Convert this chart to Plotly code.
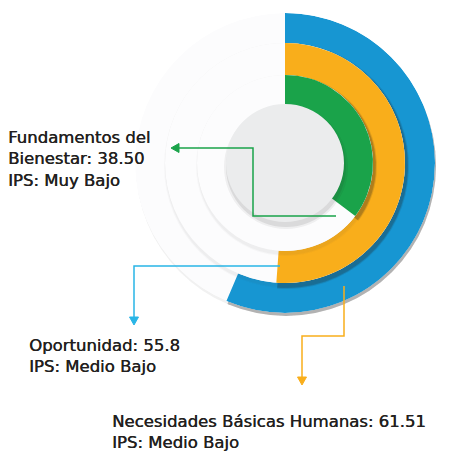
import plotly.graph_objects as go

# ---- data ----
categories = ["Necesidades Básicas Humanas", "Oportunidad", "Fundamentos del Bienestar"]
values = [61.51, 55.8, 38.50]
value_labels = ["61.51", "55.8", "38.50"]
levels = ["Medio Bajo", "Medio Bajo", "Muy Bajo"]

# ---- layout / style ----
W, H = 452, 455
OFF = 8                      # page body margin
CX, CY, R = 285, 163, 150    # in page pixels
DEG_PER_UNIT = 3.3
ring_base = [120, 88, 56]
ring_thick = [30, 32, 32]
ring_colors = ["#1796d2", "#f9ae1b", "#1aa34a"]
arrow_colors = ["#f9ae1b", "#29b5e6", "#1aa34a"]
TRACK = "#fcfcfd"
CENTER = "#ebeced"
CENTER_R = 59
TEXT = "#231f20"
FONT = "DejaVu Sans"


def px(x, y):
    return (x - OFF) / W, 1 - (y - OFF) / H


def dom(dx=0, dy=0):
    x0, y1 = px(CX - R + dx, CY - R + dy)
    x1, y0 = px(CX + R + dx, CY + R + dy)
    return dict(x=[x0, x1], y=[y0, y1])


fig = go.Figure()
layouts = {}
layer = [0]


def new_layer(dx=0, dy=0):
    layer[0] += 1
    name = "polar" if layer[0] == 1 else f"polar{layer[0]}"
    layouts[name] = dict(
        domain=dom(dx, dy),
        bgcolor="rgba(0,0,0,0)",
        angularaxis=dict(rotation=90, direction="clockwise", visible=False),
        radialaxis=dict(range=[0, R], visible=False),
    )
    return name


def ring(sub, theta, width, base, r, color):
    fig.add_trace(go.Barpolar(theta=[theta], width=[width], base=[base], r=[r],
                              marker=dict(color=color, line=dict(width=0)),
                              subplot=sub, hoverinfo="skip", showlegend=False))


for i, (v, b, t) in enumerate(zip(values, ring_base, ring_thick)):
    ang = v * DEG_PER_UNIT
    # shadow layer
    s = new_layer(1, 3)
    ring(s, 180, 360, b - 2, t + 4, "rgba(60,60,70,0.03)")
    ring(s, 180, 360, b, t + 1, "rgba(60,60,70,0.045)")
    ring(s, ang / 2, ang, b - 2, t + 5, "rgba(30,30,30,0.12)")
    ring(s, ang / 2, ang, b, t + 2, "rgba(30,30,30,0.20)")
    # body layer
    m = new_layer()
    ring(m, 180, 360, b, t, TRACK)
    fig.add_trace(go.Barpolar(theta=[ang / 2], width=[ang], base=[b], r=[t],
                              marker=dict(color=ring_colors[i], line=dict(width=0)),
                              name=categories[i], subplot=m, showlegend=False,
                              hovertemplate=f"{categories[i]}: {value_labels[i]}<extra></extra>"))

# centre disk
s = new_layer(1, 4)
ring(s, 180, 360, 0, CENTER_R + 3, "rgba(40,40,40,0.06)")
ring(s, 180, 360, 0, CENTER_R + 1, "rgba(40,40,40,0.10)")
m = new_layer()
ring(m, 180, 360, 0, CENTER_R, CENTER)

fig.update_layout(**layouts)

# arrows
shapes = []


def poly(points, color, closed=False):
    d = "M " + " L ".join(f"{px(x, y)[0]},{px(x, y)[1]}" for x, y in points)
    if closed:
        d += " Z"
        return dict(type="path", path=d, xref="paper", yref="paper",
                    fillcolor=color, line=dict(color=color, width=1))
    return dict(type="path", path=d, xref="paper", yref="paper",
                line=dict(color=color, width=1.5))


# Necesidades (orange)
shapes.append(poly([(344, 286), (344, 336), (302, 336), (302, 378)], arrow_colors[0]))
shapes.append(poly([(302, 385), (297.5, 377), (306.5, 377)], arrow_colors[0], True))
# Oportunidad (cyan)
shapes.append(poly([(280, 266), (134, 266), (134, 318)], arrow_colors[1]))
shapes.append(poly([(134, 325), (129.5, 317), (138.5, 317)], arrow_colors[1], True))
# Fundamentos (green)
shapes.append(poly([(336, 216), (253, 216), (253, 148), (178, 148)], arrow_colors[2]))
shapes.append(poly([(171, 148), (179, 143.5), (179, 152.5)], arrow_colors[2], True))

fig.update_layout(shapes=shapes)

# labels
label_pos = [(110, 432), (27, 356), (6, 159)]
texts = [
    f"{categories[0]}: {value_labels[0]}<br>IPS: {levels[0]}",
    f"{categories[1]}: {value_labels[1]}<br>IPS: {levels[1]}",
    f"Fundamentos del<br>Bienestar: {value_labels[2]}<br>IPS: {levels[2]}",
]
ann = []
for (x, y), t in zip(label_pos, texts):
    xp, yp = px(x, y)
    ann.append(dict(x=xp, y=yp, xref="paper", yref="paper", text=t, showarrow=False,
                    xanchor="left", yanchor="middle", align="left",
                    font=dict(family=FONT, size=16.5, color=TEXT,
                              shadow="0.4px 0px 0px #231f20")))
fig.update_layout(annotations=ann)

fig.update_layout(width=W, height=H, margin=dict(l=0, r=0, t=0, b=0),
                  paper_bgcolor="white", plot_bgcolor="white", showlegend=False)

fig.write_html("out.html")
